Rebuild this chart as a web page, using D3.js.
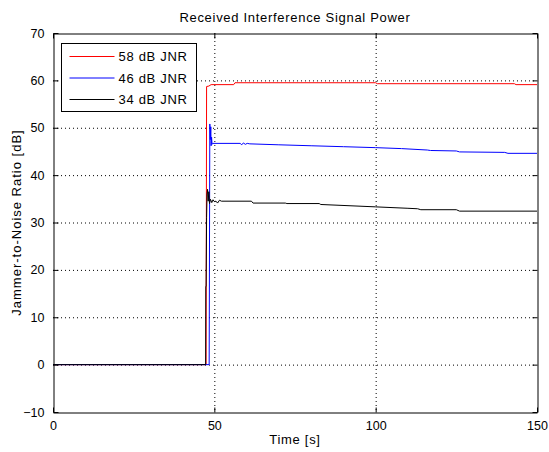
<!DOCTYPE html>
<html>
<head>
<meta charset="utf-8">
<script src="https://cdn.jsdelivr.net/npm/d3@7"></script>
<style>
  body { margin: 0; background: #fff; }
  svg { display: block; font-family: "Liberation Sans", Arial, sans-serif; }
  .grid line { stroke: #000; stroke-width: 1; stroke-dasharray: 1,3; }
</style>
</head>
<body>
<svg id="chart" width="549" height="452"></svg>
<script>
// series (time [s], JNR [dB])
const redT   = [0, 47.45, 47.6, 48.3, 49.0, 56.0, 56.4, 100, 100.5, 143, 143.5, 150];
const redV   = [0, 0, 58.7, 58.8, 59.1, 59.1, 59.5, 59.5, 59.3, 59.3, 59.1, 59.1];
const blueT  = [0, 48.4, 48.6, 48.75, 48.9, 49.0, 49.15, 49.3, 49.5, 58.0, 58.5, 59.0, 59.6, 60.2, 61, 70, 80, 90, 100, 108, 116, 117, 125, 126, 140, 141, 150];
const blueV  = [0, 0, 50.8, 47.5, 50.2, 46.2, 48.0, 46.5, 46.7, 46.7, 46.4, 46.8, 46.5, 46.7, 46.6, 46.4, 46.2, 46.0, 45.8, 45.6, 45.3, 45.2, 45.1, 44.9, 44.8, 44.6, 44.6];
const blackT = [0, 47.3, 47.35, 47.45, 47.6, 47.75, 47.9, 48.1, 48.3, 48.5, 48.8, 49.2, 49.6, 50.0, 50.5, 51.0, 51.6, 52.2, 53, 61.5, 62, 72, 72.5, 82.5, 83, 100, 110, 113, 114, 125, 126, 150];
const blackV = [0, 0, 16.5, 16.5, 31, 36, 37, 34.5, 36.5, 34.0, 34.9, 34.2, 34.8, 34.4, 34.5, 34.1, 34.7, 34.5, 34.5, 34.5, 34.1, 34.1, 34.0, 34.0, 33.8, 33.3, 33.0, 32.9, 32.7, 32.7, 32.4, 32.4];

const seriesNames  = ["58 dB JNR", "46 dB JNR", "34 dB JNR"];
const seriesColors = ["#ff0000", "#0000ff", "#000000"];
const xTicks = [0, 50, 100, 150];
const yTicks = [-10, 0, 10, 20, 30, 40, 50, 60, 70];

const series = [
    { name: seriesNames[0], color: seriesColors[0], pts: redT.map((t, i) => [t, redV[i]]) },
    { name: seriesNames[1], color: seriesColors[1], pts: blueT.map((t, i) => [t, blueV[i]]) },
    { name: seriesNames[2], color: seriesColors[2], pts: blackT.map((t, i) => [t, blackV[i]]) },
];

const mLeft = 53, mRight = 537, mTop = 33, mBottom = 412;
const svg = d3.select("#chart");

const x = d3.scaleLinear().domain([0, 150]).range([mLeft, mRight]);
const y = d3.scaleLinear().domain([-10, 70]).range([mBottom, mTop]);

// dotted grid, not on the frame
const grid = svg.append("g").attr("class", "grid");
grid.selectAll(".gx").data(xTicks.filter(d => d > 0 && d < 150)).join("line")
    .attr("x1", d => x(d) + 0.5).attr("x2", d => x(d) + 0.5)
    .attr("y1", mTop).attr("y2", mBottom);
grid.selectAll(".gy").data(yTicks.filter(d => d > -10 && d < 70)).join("line")
    .attr("x1", mLeft).attr("x2", mRight)
    .attr("y1", d => y(d) + 0.5).attr("y2", d => y(d) + 0.5);

// data lines
const line = d3.line().x(d => x(d[0])).y(d => y(d[1]));
svg.append("g").selectAll("path").data(series).join("path")
    .attr("d", d => line(d.pts))
    .attr("fill", "none")
    .attr("stroke", d => d.color)
    .attr("stroke-width", 1);

// axes with inward ticks on all four sides
const tick = 5;
const axB = svg.append("g").attr("transform", `translate(0,${mBottom + 0.5})`)
    .call(d3.axisBottom(x).tickValues(xTicks).tickSizeInner(-tick).tickSizeOuter(0).tickPadding(9));
const axT = svg.append("g").attr("transform", `translate(0,${mTop + 0.5})`)
    .call(d3.axisTop(x).tickValues(xTicks).tickSizeInner(-tick).tickSizeOuter(0).tickFormat(""));
const axL = svg.append("g").attr("transform", `translate(${mLeft + 0.5},0)`)
    .call(d3.axisLeft(y).tickValues(yTicks).tickSizeInner(-tick).tickSizeOuter(0).tickPadding(9));
const axR = svg.append("g").attr("transform", `translate(${mRight + 0.5},0)`)
    .call(d3.axisRight(y).tickValues(yTicks).tickSizeInner(-tick).tickSizeOuter(0).tickFormat(""));
[axB, axT, axL, axR].forEach(a => {
    a.select(".domain").attr("stroke", "#000");
    a.selectAll(".tick line").attr("stroke", "#000");
    a.selectAll("text").attr("fill", "#000").style("font-size", "12.5px").style("font-family", "Liberation Sans, Arial, sans-serif");
});

// titles
svg.append("text").attr("x", (mLeft + mRight) / 2).attr("y", 22)
    .attr("text-anchor", "middle").style("font-size", "13px").style("letter-spacing", "0.7px")
    .text("Received Interference Signal Power");
svg.append("text").attr("x", (mLeft + mRight) / 2).attr("y", 444)
    .attr("text-anchor", "middle").style("font-size", "13px").style("letter-spacing", "0.7px")
    .text("Time [s]");
svg.append("text").attr("transform", `translate(21,${(mTop + mBottom) / 2}) rotate(-90)`)
    .attr("text-anchor", "middle").style("font-size", "13px").style("letter-spacing", "1px")
    .text("Jammer-to-Noise Ratio [dB]");

// legend
const lg = svg.append("g").attr("transform", "translate(61.5,43.5)");
lg.append("rect").attr("width", 135).attr("height", 68)
    .attr("fill", "#fff").attr("stroke", "#000");
const rows = lg.selectAll(".row").data(series).join("g")
    .attr("transform", (d, i) => `translate(0,${13 + i * 21.5})`);
rows.append("line").attr("x1", 8).attr("x2", 53)
    .attr("stroke", d => d.color);
rows.append("text").attr("x", 57).attr("dy", "0.35em")
    .style("font-size", "13px").style("letter-spacing", "0.7px").text(d => d.name);
</script>
</body>
</html>
